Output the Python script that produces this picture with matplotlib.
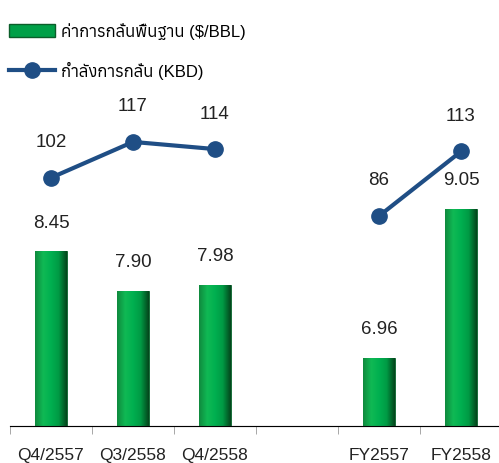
import matplotlib
matplotlib.use('Agg')
import numpy as np
import matplotlib.pyplot as plt
from matplotlib import font_manager
from matplotlib.ft2font import FT2Font
from matplotlib.colors import LinearSegmentedColormap
from matplotlib.lines import Line2D
from matplotlib.patches import Patch

# data
categories = ['Q4/2557', 'Q3/2558', 'Q4/2558', '', 'FY2557', 'FY2558']
cost = [8.45, 7.90, 7.98, None, 6.96, 9.05]
capacity = [102, 117, 114, None, 86, 113]
bar_label = 'ค่าการกลั่นพื้นฐาน ($/BBL)'
line_label = 'กำลังการกลั่น (KBD)'


def thai_fonts():
    # installed fonts that carry Thai glyphs
    found = []
    for f in font_manager.fontManager.ttflist:
        try:
            if 0x0E01 in FT2Font(f.fname).get_charmap():
                found.append(f.name)
        except Exception:
            pass
    return sorted(set(found))


plt.rcParams['font.family'] = ['Liberation Sans'] + thai_fonts() + ['DejaVu Sans']

green = LinearSegmentedColormap.from_list(
    'bevel', ['#0f8a3e', '#10b954', '#00b050', '#009a44', '#04461c'])

fig = plt.figure(figsize=(4.99, 4.64), dpi=100)
ax = fig.add_axes([10 / 499, 37 / 464, 492 / 499, 367 / 464])
ax2 = ax.twinx()

x = np.arange(len(categories))
idx = [i for i, v in enumerate(cost) if v is not None]
bx = x[idx]
bv = np.array([cost[i] for i in idx])
lv = np.array([capacity[i] for i in idx])

ax.set_xlim(-0.5, 5.5)
ax.set_ylim(6, 6 + 367 / 71.3)
bars = ax.bar(bx, bv - 6, bottom=6, width=0.39, color='#00a048',
              edgecolor='#0b5e2a', linewidth=0.6, zorder=2)
grad = np.linspace(0, 1, 64).reshape(1, -1)
for b, v in zip(bars, bv):
    x0 = b.get_x()
    im = ax.imshow(grad, cmap=green, aspect='auto', zorder=2.5,
                   extent=(x0, x0 + b.get_width(), 6, v))
    im.set_clip_path(b)
    ax.annotate(f'{v:.2f}', (x0 + b.get_width() / 2, v),
                xytext=(0, 29), textcoords='offset pixels', ha='center',
                va='center', fontsize=13.5, color='#222222')
ax.set_xlim(-0.5, 5.5)
ax.set_ylim(6, 6 + 367 / 71.3)

ax2.set_ylim(86 - 210 / 2.39, 86 + 157 / 2.39)
ax2.plot(bx[:3], lv[:3], color='#1f4e85', lw=3, marker='o', ms=11, zorder=3)
ax2.plot(bx[3:], lv[3:], color='#1f4e85', lw=3, marker='o', ms=11, zorder=3)
for xi, v in zip(bx, lv):
    ax2.annotate(f'{v:d}', (xi, v), xytext=(0, 36), textcoords='offset pixels',
                 ha='center', va='center', fontsize=13.5, color='#222222')

for a in (ax, ax2):
    for s in ('top', 'right', 'left'):
        a.spines[s].set_visible(False)
    a.set_yticks([])
ax.spines['bottom'].set_color('#999999')
ax.set_xticks(x)
ax.set_xticklabels(categories, fontsize=12.5, color='#222222')
ax.tick_params(axis='x', which='major', length=0, pad=15)
ax.set_xticks(np.arange(-0.5, 6, 1), minor=True)
ax.tick_params(axis='x', which='minor', length=6, color='#999999')

handles = [Patch(facecolor='#00a048', edgecolor='#0b5e2a'),
           Line2D([], [], color='#1f4e85', lw=3, marker='o', ms=11)]
fig.legend(handles, [bar_label, line_label], loc='upper left',
           bbox_to_anchor=(-0.029, 1.0), frameon=False, fontsize=12,
           handlelength=2.75, handleheight=0.8, handletextpad=0.35,
           labelspacing=1.3, borderaxespad=1.0)

fig.savefig('out.png', dpi=100)
